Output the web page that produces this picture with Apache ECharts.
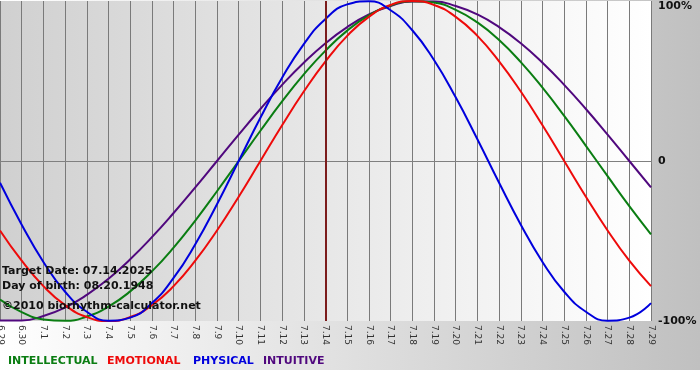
<!DOCTYPE html>
<html>
<head>
<meta charset="utf-8">
<script src="https://cdn.jsdelivr.net/npm/echarts@6/dist/echarts.min.js"></script>
<style>html,body{margin:0;padding:0;background:#fff}#c{width:700px;height:380px}</style>
</head>
<body>
<div id="c"></div>
<script>
const categories = ['6.29','6.30','7.1','7.2','7.3','7.4','7.5','7.6','7.7','7.8','7.9','7.10','7.11','7.12','7.13','7.14','7.15','7.16','7.17','7.18','7.19','7.20','7.21','7.22','7.23','7.24','7.25','7.26','7.27','7.28','7.29'];
const intellectual = [-86.6,-94.5,-99.0,-99.9,-97.2,-91.0,-81.5,-69.0,-54.1,-37.2,-18.9,0,18.9,37.2,54.1,69.0,81.5,91.0,97.2,99.9,99.0,94.5,86.6,75.6,61.8,45.8,28.2,9.5,-9.5,-28.2,-45.8];
const emotional = [-43.4,-62.3,-78.2,-90.1,-97.5,-100,-97.5,-90.1,-78.2,-62.3,-43.4,-22.3,0,22.3,43.4,62.3,78.2,90.1,97.5,100,97.5,90.1,78.2,62.3,43.4,22.3,0,-22.3,-43.4,-62.3,-78.2];
const physical = [-13.6,-39.8,-63.1,-81.7,-94.2,-99.8,-97.9,-88.8,-73.1,-52.0,-27.0,0,27.0,52.0,73.1,88.8,97.9,99.8,94.2,81.7,63.1,39.8,13.6,-13.6,-39.8,-63.1,-81.7,-94.2,-99.8,-97.9,-88.8];
const intuitive = [-99.7,-99.7,-96.9,-91.6,-83.7,-73.6,-61.4,-47.6,-32.5,-16.5,0,16.5,32.5,47.6,61.4,73.6,83.7,91.6,96.9,99.7,99.7,96.9,91.6,83.7,73.6,61.4,47.6,32.5,16.5,0,-16.5];
const yTicks = {'100':'100%','0':'0','-100':'-100%'};
const targetDay = '7.14';
const infoLines = ['Target Date: 07.14.2025','Day of birth: 08.20.1948','\u00a92010 biorhythm-calculator.net'];
const legendItems = [['INTELLECTUAL','#0a7d12'],['EMOTIONAL','#ee0a0a'],['PHYSICAL','#0000dd'],['INTUITIVE','#50087e']];

const chart = echarts.init(document.getElementById('c'), null, {renderer:'canvas'});
const F = '"DejaVu Sans", Verdana, sans-serif';
const legendX = [8, 107, 193, 263];
const graphics = [
  {type:'rect', left:0, top:370, shape:{width:700,height:10}, style:{fill:'#ffffff'}, z:-1}
];
infoLines.forEach((t,i)=>{
  graphics.push({type:'text', x:2, y:[271.5,286.5,306][i], z:100, style:{text:t, font:'bold 11px '+F, fill:'#111', verticalAlign:'middle'}});
});
legendItems.forEach((it,i)=>{
  graphics.push({type:'text', x:legendX[i], y:361.5, z:100, style:{text:it[0], font:'bold 11px '+F, fill:it[1], verticalAlign:'middle'}});
});

function mk(name, data, color, extra){
  return Object.assign({name, type:'line', data, smooth:true, symbol:'none', lineStyle:{color, width:2}, itemStyle:{color}, z:3}, extra||{});
}

chart.setOption({
  animation:false,
  backgroundColor:{type:'linear', x:0, y:0, x2:1, y2:0, colorStops:[{offset:0,color:'#ffffff'},{offset:1,color:'#c0c0c0'}]},
  grid:{left:0, right:49, top:1, bottom:59, show:true, borderWidth:0, outerBoundsMode:'none', containLabel:false,
    backgroundColor:{type:'linear', x:0, y:0, x2:1, y2:0, colorStops:[{offset:0,color:'#d0d0d0'},{offset:1,color:'#ffffff'}]}},
  xAxis:{type:'category', data:categories, boundaryGap:false,
    axisLine:{show:true, lineStyle:{color:'#808080', width:1}},
    axisTick:{show:true, length:3, lineStyle:{color:'#808080'}},
    splitLine:{show:true, lineStyle:{color:'#7a7a7a', width:1}},
    axisLabel:{rotate:-90, interval:0, fontSize:9, fontFamily:F, color:'#333', margin:4, hideOverlap:false}},
  yAxis:{type:'value', position:'right', min:-100, max:100, interval:100,
    axisLine:{show:false}, axisTick:{show:false},
    splitLine:{show:true, lineStyle:{color:['transparent','#808080','transparent'], width:1}},
    axisLabel:{margin:7, fontSize:11, fontWeight:'bold', fontFamily:F, color:'#111',
      verticalAlignMaxLabel:'top', formatter:v=>yTicks[String(v)]}},
  graphic:graphics,
  series:[
    mk('INTUITIVE', intuitive, '#50087e'),
    mk('INTELLECTUAL', intellectual, '#0a7d12'),
    mk('EMOTIONAL', emotional, '#ee0a0a'),
    mk('PHYSICAL', physical, '#0000dd', {markLine:{silent:true, symbol:'none', label:{show:false},
      lineStyle:{color:'#7b1c1c', width:2, type:'solid'}, data:[{xAxis:targetDay}]}})
  ]
});
</script>
</body>
</html>
